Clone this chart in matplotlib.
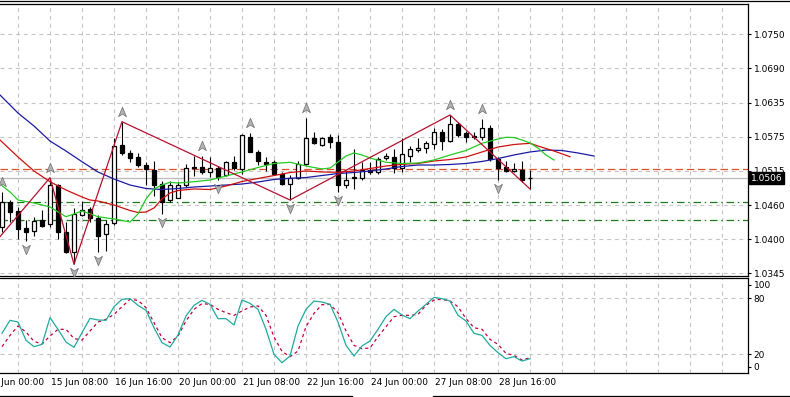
import numpy as np
import matplotlib.pyplot as plt
from matplotlib.path import Path
from matplotlib.transforms import offset_copy, blended_transform_factory
from matplotlib.lines import Line2D

plt.rcParams['font.family'] = 'DejaVu Sans'
plt.rcParams['font.size'] = 6.5

# H4 candles, 14 Jun 08:00 .. 29 Jun 08:00
opens = [1.04240, 1.04653, 1.04506, 1.04213, 1.04167, 1.04348, 1.04280, 1.04946, 1.04155, 1.03816,
         1.04438, 1.04535, 1.04392, 1.04111, 1.04297, 1.05624, 1.05484, 1.05416, 1.05285, 1.05200,
         1.04958, 1.04692, 1.04731, 1.04946, 1.05251, 1.05251, 1.05162, 1.05229, 1.05116, 1.05331,
         1.05212, 1.05765, 1.05511, 1.05331, 1.05331, 1.05128, 1.04958, 1.05060, 1.05297, 1.05748,
         1.05624, 1.05755, 1.05680, 1.04946, 1.05082, 1.05070, 1.05200, 1.05172, 1.05399, 1.05426,
         1.05240, 1.05443, 1.05534, 1.05568, 1.05636, 1.05850, 1.05692, 1.05975, 1.05822, 1.05782,
         1.05765, 1.05907, 1.05387, 1.05256, 1.05184, 1.05200, 1.05060]
highs = [1.04833, 1.04692, 1.04579, 1.04353, 1.04409, 1.04523, 1.05070, 1.04968, 1.04324, 1.04552,
         1.04675, 1.04579, 1.04438, 1.04353, 1.05738, 1.06019, 1.05539, 1.05484, 1.05331, 1.05353,
         1.05014, 1.05014, 1.05002, 1.05297, 1.05443, 1.05443, 1.05426, 1.05268, 1.05353, 1.05443,
         1.05806, 1.05822, 1.05539, 1.05426, 1.05370, 1.05162, 1.05116, 1.05353, 1.06077, 1.05850,
         1.05768, 1.05806, 1.05794, 1.05200, 1.05556, 1.05331, 1.05331, 1.05426, 1.05484, 1.05556,
         1.05738, 1.05612, 1.05738, 1.05692, 1.05917, 1.05895, 1.06133, 1.06009, 1.05861, 1.05850,
         1.06065, 1.05963, 1.05421, 1.05353, 1.05314, 1.05353, 1.05200]
lows = [1.04155, 1.04324, 1.04031, 1.03997, 1.04087, 1.04240, 1.04240, 1.04031, 1.03794, 1.03603,
        1.04421, 1.04314, 1.03816, 1.03833, 1.04269, 1.05455, 1.05341, 1.05256, 1.04946, 1.04760,
        1.04450, 1.04653, 1.04718, 1.04918, 1.05104, 1.05128, 1.05082, 1.05031, 1.05104, 1.05200,
        1.05128, 1.05506, 1.05285, 1.05184, 1.05116, 1.04946, 1.04692, 1.05048, 1.05285, 1.05636,
        1.05612, 1.05568, 1.04833, 1.04901, 1.04879, 1.05031, 1.05128, 1.05128, 1.05370, 1.05145,
        1.05162, 1.05341, 1.05501, 1.05484, 1.05556, 1.05539, 1.05675, 1.05765, 1.05680, 1.05721,
        1.05709, 1.05353, 1.05031, 1.05162, 1.05162, 1.05002, 1.04879]
closes = [1.04653, 1.04484, 1.04201, 1.04145, 1.04341, 1.04257, 1.04946, 1.04155, 1.03816, 1.04450,
          1.04518, 1.04382, 1.04087, 1.04280, 1.05607, 1.05484, 1.05409, 1.05285, 1.05212, 1.04946,
          1.04663, 1.04946, 1.04946, 1.05229, 1.05229, 1.05172, 1.05229, 1.05087, 1.05331, 1.05229,
          1.05794, 1.05511, 1.05353, 1.05307, 1.05128, 1.04958, 1.05070, 1.05297, 1.05748, 1.05653,
          1.05738, 1.05670, 1.04946, 1.05031, 1.05060, 1.05200, 1.05162, 1.05387, 1.05443, 1.05229,
          1.05467, 1.05556, 1.05568, 1.05653, 1.05839, 1.05692, 1.05975, 1.05794, 1.05765, 1.05755,
          1.05917, 1.05387, 1.05229, 1.05184, 1.05218, 1.05031, 1.05060]

# alligator lines (bar index, price), shifted forward past the last bar
jaw_bars = [-0.25, 2, 4, 6, 8, 10, 12, 14, 16, 18, 20, 22, 24, 26, 28, 30, 32, 34, 36, 38,
            40, 42, 44, 46, 48, 50, 52, 54, 56, 58, 60, 62, 64, 66, 68, 70, 72, 74]
jaw_vals = [1.06472, 1.06166, 1.05946, 1.05692, 1.05522, 1.05341, 1.05167, 1.05048, 1.04946, 1.04887,
            1.04870, 1.04887, 1.04912, 1.04929, 1.04946, 1.04963, 1.04997, 1.05040, 1.05060, 1.05073,
            1.05107, 1.05141, 1.05158, 1.05184, 1.05218, 1.05260, 1.05285, 1.05285, 1.05294, 1.05311,
            1.05345, 1.05395, 1.05455, 1.05506, 1.05539, 1.05531, 1.05489, 1.05438]
teeth_bars = [-0.25, 2, 4, 6, 8, 10, 11, 12, 14, 16, 17, 18, 19, 20, 21, 22, 24, 26, 28, 30, 32,
              34, 36, 38, 40, 42, 44, 46, 48, 50, 52, 54, 56, 58, 60, 62, 64, 66, 67, 69, 71]
teeth_vals = [1.05709, 1.05421, 1.05184, 1.05002, 1.04862, 1.04743, 1.04692, 1.04675, 1.04607, 1.04514,
              1.04480, 1.04489, 1.04557, 1.04709, 1.04811, 1.04853, 1.04879, 1.04870, 1.04929, 1.05006,
              1.05057, 1.05107, 1.05158, 1.05184, 1.05167, 1.05162, 1.05184, 1.05226, 1.05268, 1.05297,
              1.05311, 1.05353, 1.05378, 1.05421, 1.05506, 1.05590, 1.05633, 1.05653, 1.05607, 1.05522,
              1.05426]
lips_bars = [-0.25, 1, 2, 4, 6, 8, 9, 10, 12, 14, 15, 16, 17, 18, 19, 20, 21, 22, 24, 26, 28, 30,
             32, 34, 36, 38, 40, 41, 42, 43, 44, 45, 46, 48, 50, 52, 54, 56, 58, 60, 62, 63, 64, 65,
             66, 67, 68, 69]
lips_vals = [1.04963, 1.04828, 1.04692, 1.04641, 1.04574, 1.04409, 1.04455, 1.04506, 1.04409, 1.04370,
             1.04345, 1.04319, 1.04455, 1.04709, 1.04879, 1.04946, 1.04992, 1.04980, 1.05002, 1.05031,
             1.05099, 1.05167, 1.05243, 1.05311, 1.05331, 1.05268, 1.05218, 1.05234, 1.05336, 1.05438,
             1.05489, 1.05455, 1.05404, 1.05331, 1.05311, 1.05319, 1.05370, 1.05455, 1.05531, 1.05653,
             1.05726, 1.05755, 1.05751, 1.05709, 1.05658, 1.05573, 1.05455, 1.05370]

# zigzag turning points
zz_bars = [-1, 6, 9, 15, 36, 56, 66]
zz_vals = [1.03950, 1.05070, 1.03603, 1.06019, 1.04692, 1.06133, 1.04879]

# fractals
fr_up = [0, 6, 15, 25, 31, 38, 56, 60]
fr_dn = [3, 9, 12, 20, 27, 36, 42, 62]

# horizontal levels
level_orange = 1.0521
level_green = [1.04653, 1.04348]
bid = 1.0506

# stochastic
stoch_k = [42.5, 56.4, 54.6, 35.0, 28.2, 30.7, 59.3, 46.8, 33.2, 27.5,
           43.2, 58.5, 56.8, 56.4, 71.0, 78.9, 79.6, 72.5, 67.1, 48.5,
           32.5, 27.8, 40.7, 61.0, 72.5, 77.8, 73.5, 58.2, 58.2, 51.4,
           78.2, 74.6, 68.2, 46.8, 20.0, 11.0, 18.2, 50.3, 68.2, 77.1,
           76.0, 73.5, 54.6, 29.6, 18.2, 28.9, 34.3, 46.8, 60.3, 68.2,
           62.1, 58.2, 66.4, 73.5, 81.0, 79.6, 77.1, 61.8, 55.7, 42.5,
           40.3, 29.6, 21.8, 15.3, 17.5, 12.8, 15.3]
stoch_d = [28.2, 40.3, 50.3, 43.9, 33.9, 31.0, 39.6, 46.8, 46.8, 36.8,
           35.3, 45.0, 54.6, 57.5, 62.8, 71.0, 78.9, 77.8, 70.0, 53.9,
           37.8, 32.5, 39.6, 55.7, 68.2, 74.3, 73.5, 68.2, 64.6, 61.8,
           66.4, 70.7, 71.8, 61.8, 38.5, 23.2, 17.5, 23.5, 49.6, 63.9,
           73.2, 73.5, 64.6, 45.0, 29.6, 26.0, 26.8, 38.9, 49.6, 60.3,
           61.8, 61.8, 62.8, 72.5, 78.2, 78.9, 77.1, 71.0, 58.2, 48.5,
           46.8, 36.0, 30.7, 21.0, 18.9, 13.9, 16.4]

price_labels = ['1.0345', '1.0400', '1.0460', '1.0515', '1.0575', '1.0635', '1.0690', '1.0750']
time_labels = ['14 Jun 00:00', '15 Jun 08:00', '16 Jun 16:00', '20 Jun 00:00', '21 Jun 08:00',
               '22 Jun 16:00', '24 Jun 00:00', '27 Jun 08:00', '28 Jun 16:00']
stoch_labels = ['0', '20', '80', '100']

# ---- layout ----
W, H = 790, 397
fig = plt.figure(figsize=(W / 100, H / 100), dpi=100)


def px_rect(x0, y0, x1, y1):
    return [x0 / W, 1 - y1 / H, (x1 - x0) / W, (y1 - y0) / H]


ax = fig.add_axes(px_rect(0, 4, 748, 276))
ax2 = fig.add_axes(px_rect(0, 278, 748, 373))

grid_kw = dict(color='#c4c4c4', linewidth=0.8, linestyle=(0, (3.5, 3.5)))
for a in (ax, ax2):
    a.set_xlim(-0.25, 93.25)
    a.spines['left'].set_visible(False)
    for s in ('top', 'bottom', 'right'):
        a.spines[s].set_linewidth(0.9)
    a.set_xticks(np.arange(2, 93, 4))
    a.tick_params(axis='x', length=0, labelbottom=False)
    a.yaxis.tick_right()
    a.tick_params(axis='y', which='both', length=2.5, width=0.8, pad=1.5, labelsize=6.5)
    a.grid(True, which='major', **grid_kw)
    a.set_axisbelow(True)

# main price panel
ax.set_ylim(1.03404, 1.08014)
ax.set_yticks(np.linspace(1.0345, 1.0750, len(price_labels)))
ax.set_yticklabels(price_labels)

ax.axhline(bid, color='#bdbdbd', lw=1.0, zorder=2)
ax.axhline(level_orange, color='#e0502a', lw=0.9, linestyle=(0, (6, 3)), zorder=2)
for lv in level_green:
    ax.axhline(lv, color='#1f7a1f', lw=0.9, linestyle=(0, (6, 3, 1.2, 3)), zorder=2)

o = np.array(opens)
c = np.array(closes)
idx = np.arange(len(o))
ax.vlines(idx, lows, highs, color='black', lw=0.8, zorder=4)
body_col = np.where(c >= o, 'white', 'black')
ax.bar(idx, np.abs(c - o), bottom=np.minimum(o, c), width=0.62, color=body_col,
       edgecolor='black', linewidth=0.9, zorder=5)

ax.plot(jaw_bars, jaw_vals, color='#1a1aa6', lw=0.9, zorder=6)
ax.plot(teeth_bars, teeth_vals, color='#d01010', lw=0.9, zorder=6)
ax.plot(lips_bars, lips_vals, color='#22cc22', lw=0.9, zorder=6)
ax.plot(zz_bars, zz_vals, color='#b8102e', lw=0.9, zorder=7)

arrow = Path([(0, 1), (0.75, -0.8), (0, -0.3), (-0.75, -0.8), (0, 1)],
             [Path.MOVETO, Path.LINETO, Path.LINETO, Path.LINETO, Path.CLOSEPOLY])
arrow_dn = Path(arrow.vertices * [1, -1], arrow.codes)
up_tr = offset_copy(ax.transData, fig=fig, y=10, units='dots')
dn_tr = offset_copy(ax.transData, fig=fig, y=-8, units='dots')
ax.plot(fr_up, np.array(highs)[fr_up], linestyle='none', marker=arrow, markersize=7.5,
        markerfacecolor='#b4b4b4', markeredgecolor='#7a7a7a', markeredgewidth=0.6,
        transform=up_tr, zorder=8)
ax.plot(fr_dn, np.array(lows)[fr_dn], linestyle='none', marker=arrow_dn, markersize=7.5,
        markerfacecolor='#b4b4b4', markeredgecolor='#7a7a7a', markeredgewidth=0.6,
        transform=dn_tr, zorder=8)

ytr = blended_transform_factory(ax.transAxes, ax.transData)
ax.text(1.0 + 2.5 / 748, bid, f'{bid:.4f}', transform=ytr, ha='left', va='center',
        color='white', fontsize=6.5, clip_on=False, zorder=20,
        bbox=dict(boxstyle='square,pad=0.18', facecolor='black', edgecolor='black'))

# stochastic panel
ax2.set_ylim(0, 101.75)
ax2.set_yticks([20, 80])
ax2.set_yticklabels(stoch_labels[1:3])
ax2.set_yticks([6.5, 94.3], minor=True)
ax2.set_yticklabels([stoch_labels[0], stoch_labels[3]], minor=True)
ax2.plot(idx, stoch_k, color='#20aaa0', lw=0.9, zorder=5)
ax2.plot(idx, stoch_d, color='#c8003c', lw=0.9, linestyle=(0, (2.5, 2.5)), zorder=4)

label_bars = np.arange(-2, 63, 8)
ax2.set_xticks(label_bars[label_bars > 0], minor=True)
ax2.tick_params(axis='x', which='minor', length=3.5, width=0.8, direction='out')
xtr = blended_transform_factory(ax2.transData, ax2.transAxes)
for b, lbl in zip(label_bars, time_labels):
    ax2.text(b + 0.1, -0.095, lbl, transform=xtr, ha='left', va='center',
             fontsize=6.5, clip_on=False)

# window border lines
fig.add_artist(Line2D([0, 1], [1 - 1 / H] * 2, transform=fig.transFigure, color='black', lw=0.9))
fig.add_artist(Line2D([0, 352 / W], [1 - 396 / H] * 2, transform=fig.transFigure, color='black', lw=0.9))
fig.add_artist(Line2D([433 / W, 1], [1 - 396 / H] * 2, transform=fig.transFigure, color='black', lw=0.9))

fig.savefig('out.png', dpi=100)
